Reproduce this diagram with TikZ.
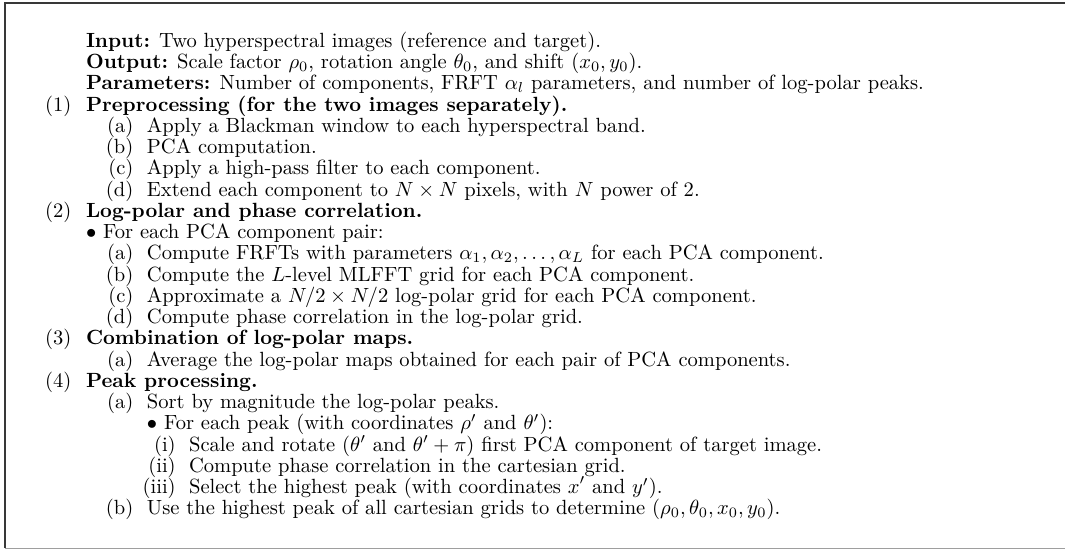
\documentclass[tikz,border=0pt]{standalone}
\begin{document}
\begin{tikzpicture}[x=1pt,y=1pt,
  txt/.style={anchor=base west, inner sep=0pt, outer sep=0pt},
  lab/.style={anchor=base east, inner sep=0pt, outer sep=0pt},
  topline/.style={draw=black!78, line width=0.9pt},
  botline/.style={draw=black!38, line width=0.6pt}]
\useasboundingbox (0,0) rectangle (518.2,-267.2);
% frame
\draw[topline] (518.2,-1.3) -- (2.6,-1.3) -- (2.6,-266.7);
\draw[botline] (2.6,-266.7) -- (518.2,-266.7);
% header
\node[txt] (r0) at (41.85,-23.00) {\textbf{Input:} Two hyperspectral images (reference and target).};
\node[txt] (r1) at (41.85,-33.34) {\textbf{Output:} Scale factor $\rho_0$, rotation angle $\theta_0$, and shift $(x_0,y_0)$.};
\node[txt] (r2) at (41.85,-43.68) {\textbf{Parameters:} Number of components, FRFT $\alpha_l$ parameters, and number of log-polar peaks.};
% (1)
\node[lab] (l3) at (34.7,-54.02) {(1)};
\node[txt] (r3) at (41.85,-54.02) {\textbf{Preprocessing (for the two images separately).}};
\node[lab] (l4) at (64.9,-64.36) {(a)};
\node[txt] (r4) at (71.5,-64.36) {Apply a Blackman window to each hyperspectral band.};
\node[lab] (l5) at (64.9,-74.70) {(b)};
\node[txt] (r5) at (71.5,-74.70) {PCA computation.};
\node[lab] (l6) at (64.9,-85.04) {(c)};
\node[txt] (r6) at (71.5,-85.04) {Apply a high-pass filter to each component.};
\node[lab] (l7) at (64.9,-95.38) {(d)};
\node[txt] (r7) at (71.5,-95.38) {Extend each component to $N\times N$ pixels, with $N$ power of 2.};
% (2)
\node[lab] (l8) at (34.7,-105.72) {(2)};
\node[txt] (r8) at (41.85,-105.72) {\textbf{Log-polar and phase correlation.}};
\node[txt] (r9) at (41.85,-116.06) {$\bullet$ For each PCA component pair:};
\node[lab] (l10) at (64.9,-126.40) {(a)};
\node[txt] (r10) at (71.5,-126.40) {Compute FRFTs with parameters $\alpha_1,\alpha_2,\ldots,\alpha_L$ for each PCA component.};
\node[lab] (l11) at (64.9,-136.74) {(b)};
\node[txt] (r11) at (71.5,-136.74) {Compute the $L$-level MLFFT grid for each PCA component.};
\node[lab] (l12) at (64.9,-147.08) {(c)};
\node[txt] (r12) at (71.5,-147.08) {Approximate a $N/2\times N/2$ log-polar grid for each PCA component.};
\node[lab] (l13) at (64.9,-157.42) {(d)};
\node[txt] (r13) at (71.5,-157.42) {Compute phase correlation in the log-polar grid.};
% (3)
\node[lab] (l14) at (34.7,-167.76) {(3)};
\node[txt] (r14) at (41.85,-167.76) {\textbf{Combination of log-polar maps.}};
\node[lab] (l15) at (64.9,-178.10) {(a)};
\node[txt] (r15) at (71.5,-178.10) {Average the log-polar maps obtained for each pair of PCA components.};
% (4)
\node[lab] (l16) at (34.7,-188.44) {(4)};
\node[txt] (r16) at (41.85,-188.44) {\textbf{Peak processing.}};
\node[lab] (l17) at (64.9,-198.78) {(a)};
\node[txt] (r17) at (71.5,-198.78) {Sort by magnitude the log-polar peaks.};
\node[txt] (r18) at (71.5,-209.12) {$\bullet$ For each peak (with coordinates $\rho'$ and $\theta'$):};
\node[lab] (l19) at (85.5,-219.46) {(i)};
\node[txt] (r19) at (92.0,-219.46) {Scale and rotate ($\theta'$ and $\theta'+\pi$) first PCA component of target image.};
\node[lab] (l20) at (85.5,-229.80) {(ii)};
\node[txt] (r20) at (92.0,-229.80) {Compute phase correlation in the cartesian grid.};
\node[lab] (l21) at (85.5,-240.14) {(iii)};
\node[txt] (r21) at (92.0,-240.14) {Select the highest peak (with coordinates $x^{\raisebox{1pt}{$\scriptstyle\prime$}}$ and $y'$).};
\node[lab] (l22) at (64.9,-250.48) {(b)};
\node[txt] (r22) at (71.5,-250.48) {Use the highest peak of all cartesian grids to determine $(\rho_0,\theta_0,x_0,y_0)$.};
\end{tikzpicture}
\end{document}
